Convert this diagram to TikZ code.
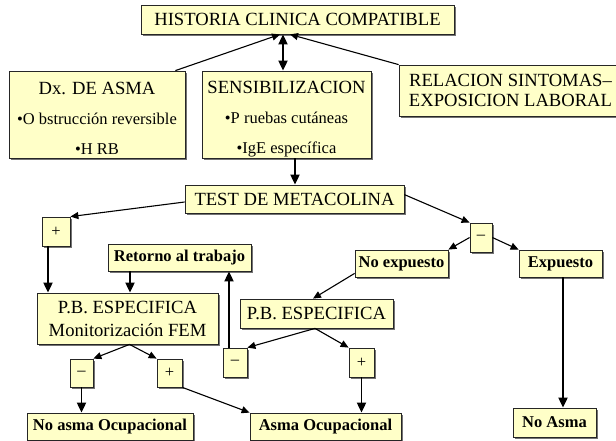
\documentclass[tikz,border=0pt]{standalone}
\usepackage{fontspec}
\setmainfont{Liberation Serif}
\usetikzlibrary{
    arrows.meta,
    shadows
}
\definecolor{amarillo}{RGB}{255,255,200}
\newcommand{\letragrande}{\fontsize{18.6}{19.5}\selectfont}
\newcommand{\letrachica}{\fontsize{16.5}{18}\selectfont}
\tikzset{
    >={Triangle[length=8pt,width=7pt]},
    caja/.style={
        draw=black!85,
        line width=0.8pt,
        fill=amarillo,
        drop shadow={shadow xshift=1.6pt, shadow yshift=-1.6pt, fill=black!55, opacity=1},
        inner sep=0pt,
        align=center,
        font=\letragrande
    },
    signo/.style={caja, font=\letrachica},
    final/.style={caja, font=\letrachica\bfseries},
    fina/.style={->, line width=1.1pt},
    gruesa/.style={->, line width=1.9pt, >={Triangle[length=10pt,width=9pt]}}
}

\begin{document}
\begin{tikzpicture}[
    x=1pt,
    y=-1pt
]

    \fill[white] (0,0) rectangle (616,440);
    \useasboundingbox (0,0) rectangle (616,440);

    % Nivel superior
    \node[caja, minimum width=313pt, minimum height=29pt] (hist) at (297.5,19.5)
        {HISTORIA CLINICA COMPATIBLE};

    \node[caja, minimum width=176pt, minimum height=87pt,
          font=\fontsize{16.5}{30}\selectfont] (dx) at (97,114.5)
        {{\letragrande\rule{0pt}{21pt}Dx. DE ASMA}\\ •O bstrucción reversible\\ •H RB};
    \node[caja, minimum width=169pt, minimum height=87pt,
          font=\fontsize{16.5}{30}\selectfont] (sens) at (286.5,114.5)
        {{\letragrande\rule{0pt}{21pt}SENSIBILIZACION}\\ •P ruebas cutáneas\\ •IgE específica};
    \node[caja, minimum width=223pt, minimum height=51pt] (rel) at (510.5,90.5)
        {RELACION SINTOMAS–\\ EXPOSICION LABORAL};

    \node[caja, minimum width=219pt, minimum height=28pt] (test) at (294.5,199)
        {TEST DE METACOLINA};

    % Rama positiva
    \node[signo, minimum width=28pt, minimum height=29pt] (masA) at (56,231.5) {+};
    \node[final, minimum width=143pt, minimum height=27pt] (ret) at (179.5,257.5)
        {Retorno al trabajo};
    \node[caja, minimum width=181pt, minimum height=51pt,
          font=\fontsize{18.6}{23}\selectfont] (pbA) at (127.5,318.5)
        {P.B. ESPECIFICA\\ Monitorización FEM};
    \node[signo, minimum width=23pt, minimum height=28pt] (menosA) at (81.5,373) {–};
    \node[signo, minimum width=25pt, minimum height=28pt] (masB) at (169.5,373) {+};

    % Rama negativa
    \node[signo, minimum width=22pt, minimum height=29pt] (menosC) at (481,237.5) {–};
    \node[final, minimum width=93pt, minimum height=27pt] (noexp) at (401.5,263.5)
        {No expuesto};
    \node[final, minimum width=83pt, minimum height=27pt] (exp) at (560.5,263.5)
        {Expuesto};
    \node[caja, minimum width=153pt, minimum height=29pt] (pbB) at (316.5,313.5)
        {P.B. ESPECIFICA};
    \node[signo, minimum width=24pt, minimum height=29pt] (menosB) at (235,362.5) {–};
    \node[signo, minimum width=25pt, minimum height=29pt] (masC) at (361.5,362.5) {+};

    % Resultados
    \node[final, minimum width=166pt, minimum height=27pt] (noasmaoc) at (110,426.5)
        {No asma Ocupacional};
    \node[final, minimum width=151pt, minimum height=27pt] (asmaoc) at (325.5,426.5)
        {Asma Ocupacional};
    \node[final, minimum width=83pt, minimum height=29pt] (noasma) at (554.5,422.5)
        {No Asma};

    % Flechas hacia la historia clinica
    \draw[fina] ([xshift=-10pt]dx.north east) -- ([xshift=-17.5pt]hist.south);
    \draw[fina] (rel.north west) -- ([xshift=-7.5pt]hist.south);
    \draw[gruesa, <->] ([xshift=-14.5pt]hist.south) -- ([xshift=-3.5pt]sens.north);
    \draw[gruesa] ([xshift=8.5pt]sens.south) -- ([xshift=0.5pt]test.north);

    % Test positivo
    \draw[fina] ([yshift=-3pt]test.west) -- (masA.north east);
    \draw[gruesa] ([xshift=-8pt]masA.south) -- ([xshift=-79.5pt]pbA.north);
    \draw[gruesa] ([xshift=-49.5pt]ret.south) -- ([xshift=2.5pt]pbA.north);
    \draw[fina] ([xshift=2pt]pbA.south) -- (menosA.north east);
    \draw[fina] ([xshift=2pt]pbA.south) -- (masB.north west);
    \draw[gruesa] (menosA.south) -- (menosA.south |- noasmaoc.north);
    \draw[fina] (masB.south east) -- (asmaoc.north west);

    % Test negativo
    \draw[fina] ([yshift=-10pt]test.north east) -- (menosC.north west);
    \draw[fina] (menosC.west) -- (noexp.north east);
    \draw[fina] (menosC.east) -- (exp.north west);
    \draw[gruesa] ([xshift=2.5pt]exp.south) -- ([xshift=8.5pt]noasma.north);
    \draw[fina] ([yshift=4pt]noexp.south west) -- ([xshift=-3.5pt]pbB.north);
    \draw[fina] ([xshift=-1.5pt]pbB.south) -- (menosB.north east);
    \draw[fina] ([xshift=-1.5pt]pbB.south) -- (masC.north west);
    \draw[gruesa] ([xshift=-6pt]menosB.north) -- ([xshift=49.5pt]ret.south);
    \draw[gruesa] (masC.south) -- (masC.south |- asmaoc.north);

\end{tikzpicture}
\end{document}
